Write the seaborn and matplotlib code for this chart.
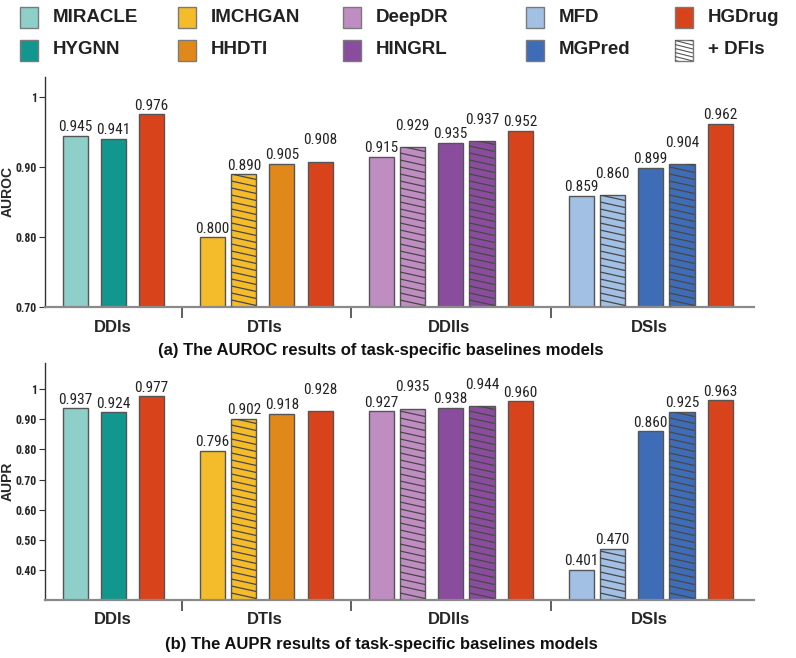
import numpy as np
import pandas as pd
import matplotlib
matplotlib.use("Agg")
import matplotlib.pyplot as plt
from matplotlib import font_manager as fm
from matplotlib.lines import Line2D
from matplotlib.patches import Rectangle
from matplotlib.transforms import Bbox, IdentityTransform
import seaborn as sns

# ---- data ----
tasks = ["DDIs", "DTIs", "DDIls", "DSIs"]
bar_task = ["DDIs"] * 3 + ["DTIs"] * 4 + ["DDIls"] * 5 + ["DSIs"] * 5
bar_model = ["MIRACLE", "HYGNN", "HGDrug",
             "IMCHGAN", "IMCHGAN", "HHDTI", "HGDrug",
             "DeepDR", "DeepDR", "HINGRL", "HINGRL", "HGDrug",
             "MFD", "MFD", "MGPred", "MGPred", "HGDrug"]
bar_dfi = [False, False, False,
           False, True, False, False,
           False, True, False, True, False,
           False, True, False, True, False]
auroc = [0.945, 0.941, 0.976,
         0.800, 0.890, 0.905, 0.908,
         0.915, 0.929, 0.935, 0.937, 0.952,
         0.859, 0.860, 0.899, 0.904, 0.962]
aupr = [0.937, 0.924, 0.977,
        0.796, 0.902, 0.918, 0.928,
        0.927, 0.935, 0.938, 0.944, 0.960,
        0.401, 0.470, 0.860, 0.925, 0.963]

models = ["MIRACLE", "HYGNN", "IMCHGAN", "HHDTI", "DeepDR",
          "HINGRL", "MFD", "MGPred", "HGDrug"]
colors = ["#8fcfc9", "#12978f", "#f4bb2b", "#e0891a", "#c08dc3",
          "#8a4d9d", "#a2bfe4", "#3f6cb6", "#d8431b"]
palette = dict(zip(models, colors))

# ---- layout (pixels / units) ----
W, H = 796, 658
PAIR, STEP, GROUP_GAP = 1.0, 1.22, 1.95
# labels raised to avoid clashing with a neighbour (bar index)
lift_auroc = {6, 8, 10, 13, 15}
lift_aupr = {6, 8, 10}

pos = []
for i in range(len(bar_task)):
    if i == 0:
        pos.append(0.0)
    elif bar_task[i] != bar_task[i - 1]:
        pos.append(pos[-1] + GROUP_GAP)
    elif bar_dfi[i]:
        pos.append(pos[-1] + PAIR)
    else:
        pos.append(pos[-1] + STEP)

df = pd.DataFrame({"pos": pos, "task": bar_task, "model": bar_model,
                   "dfi": bar_dfi, "AUROC": auroc, "AUPR": aupr})

group_centers = [df.loc[df.task == t, "pos"].mean() for t in tasks]
seps = [(df.loc[df.task == a, "pos"].max() + df.loc[df.task == b, "pos"].min()) / 2
        for a, b in zip(tasks[:-1], tasks[1:])]


def pick_font(names):
    for n in names:
        try:
            fm.findfont(fm.FontProperties(family=n), fallback_to_default=False)
            return n
        except ValueError:
            pass
    return None


sns.set_style("ticks")
main_font = pick_font(["Liberation Sans", "Arimo"]) or "DejaVu Sans"
narrow_font = pick_font(["Liberation Sans Narrow", "Roboto Condensed"])
narrow_scale = 1.0
if narrow_font is None:
    narrow_font = main_font
    narrow_scale = 0.86
plt.rcParams["font.family"] = [main_font, "DejaVu Sans"]

fig = plt.figure(figsize=(W / 100, H / 100), dpi=100)


def hatch(patch, clip_bbox=None, spacing=7.0, drop=5.5, color="#474747", lw=0.9):
    # shallow "\" hatching, drawn in pixels and clipped to the bar
    bb = patch.get_window_extent()
    if clip_bbox is not None:
        bb = Bbox.intersection(bb, clip_bbox)
    n = int((bb.y1 - bb.y0 + drop) / spacing) + 2
    for k in range(n):
        yl = bb.y0 + k * spacing
        ln = Line2D([bb.x0, bb.x1], [yl, yl - drop], transform=IdentityTransform(),
                    color=color, lw=lw, solid_capstyle="butt")
        ln.set_clip_box(bb)
        fig.add_artist(ln)


panels = [
    dict(col="AUROC", rect=(45, 77, 709, 230), ylim=(0.70, 1.029),
         yticks=[0.70, 0.80, 0.90, 1.0], ylabels=["0.70", "0.80", "0.90", "1"],
         lift=lift_auroc, caption="(a) The AUROC results of task-specific baselines models",
         cap_y=350),
    dict(col="AUPR", rect=(45, 363, 709, 237), ylim=(0.30, 1.087),
         yticks=[0.40, 0.50, 0.60, 0.70, 0.80, 0.90, 1.0],
         ylabels=["0.40", "0.50", "0.60", "0.70", "0.80", "0.90", "1"],
         lift=lift_aupr, caption="(b) The AUPR results of task-specific baselines models",
         cap_y=645),
]

for p in panels:
    x, y, w, h = p["rect"]
    ax = fig.add_axes([x / W, 1 - (y + h) / H, w / W, h / H])
    sns.barplot(data=df, x="pos", y=p["col"], hue="model", palette=palette,
                native_scale=True, dodge=False, width=0.8, errorbar=None,
                saturation=1, edgecolor="#555555", linewidth=1.0, legend=False, ax=ax)
    ax.set_xlim(pos[0] - 0.96, pos[-1] + 1.08)
    ax.set_ylim(*p["ylim"])
    ax.set_yticks(p["yticks"])
    ax.set_yticklabels(p["ylabels"], fontfamily=narrow_font, fontweight="bold",
                       fontsize=8.5 * narrow_scale)
    ax.tick_params(axis="y", direction="out", length=4, width=0.8, color="#333333", pad=2)

    ax.set_xticks(group_centers)
    ax.set_xticklabels(tasks, fontsize=12, fontweight="bold")
    ax.set_xticks(seps, minor=True)
    ax.tick_params(axis="x", which="major", length=0, pad=9)
    ax.tick_params(axis="x", which="minor", length=8, width=1.2, color="#444444",
                   direction="out")
    ax.set_xlabel("")
    ax.set_ylabel(p["col"], fontsize=10, fontweight="bold")
    ax.yaxis.set_label_coords(-0.043, 0.5)

    sns.despine(ax=ax)
    ax.spines["left"].set_color("#333333")
    ax.spines["left"].set_linewidth(1.0)
    ax.spines["bottom"].set_color("#8a8a8a")
    ax.spines["bottom"].set_linewidth(1.6)

    # hatch the "+ DFIs" bars and put value labels on top
    for bar in ax.patches:
        cx = bar.get_x() + bar.get_width() / 2
        i = int(np.argmin(np.abs(df["pos"].to_numpy() - cx)))
        if df["dfi"].iat[i]:
            hatch(bar, clip_bbox=ax.bbox)
        v = df[p["col"]].iat[i]
        off = 12.5 if i in p["lift"] else 3.2
        ax.annotate(f"{v:.3f}", (df["pos"].iat[i], v), xytext=(0, off),
                    textcoords="offset points", ha="center", va="baseline",
                    fontfamily=narrow_font, fontsize=11 * narrow_scale, color="#222222")

    fig.text(381 / W, 1 - p["cap_y"] / H, p["caption"], ha="center", va="center",
             fontsize=12, fontweight="bold", color="#111111")

# ---- legend drawn by hand (5 columns x 2 rows) ----
leg_names = models + ["+ DFIs"]
leg_colors = colors + ["white"]
col_x = [20, 178, 343, 526, 675]
row_y = [17, 50]
sq_w, sq_h = 18, 21
for k, (name, c) in enumerate(zip(leg_names, leg_colors)):
    cx, cy = col_x[k // 2], row_y[k % 2]
    sq = Rectangle((cx / W, 1 - (cy + sq_h / 2) / H), sq_w / W, sq_h / H,
                   transform=fig.transFigure, facecolor=c, edgecolor="#7a7a7a", lw=1.0)
    fig.add_artist(sq)
    if name == "+ DFIs":
        hatch(sq, spacing=4.0, drop=4.5, color="#555555", lw=0.8)
    fig.text((cx + sq_w + 15) / W, 1 - cy / H, name, ha="left", va="center",
             fontsize=13.5, fontweight="bold", color="#222222")

fig.savefig("out.png", dpi=100)
